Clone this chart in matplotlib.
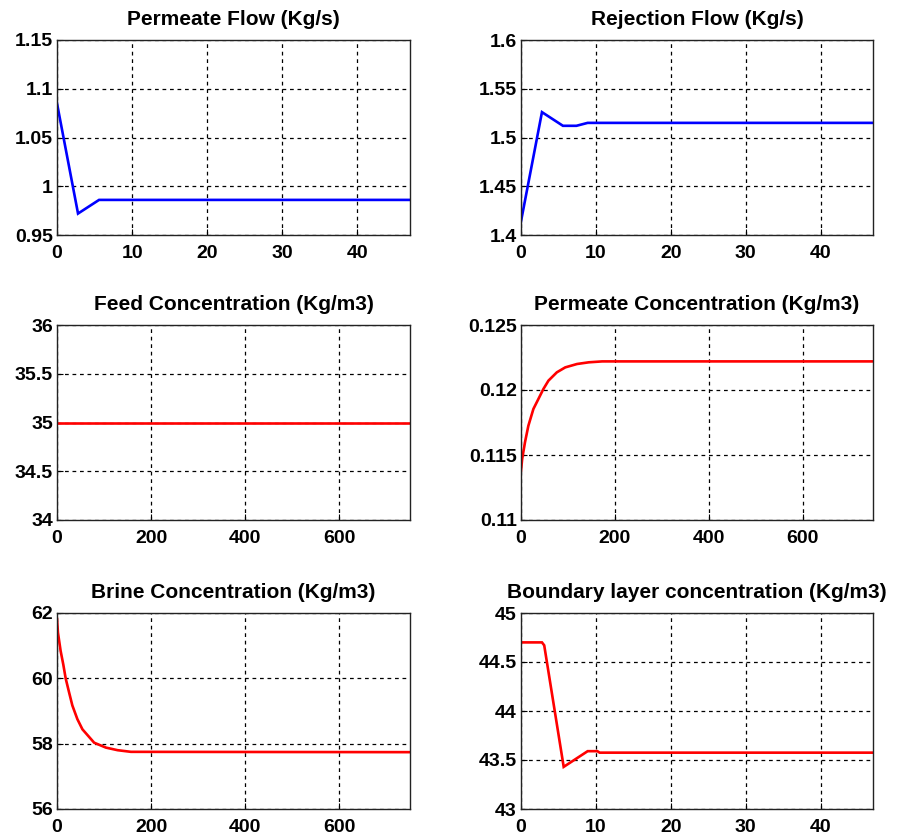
import matplotlib
matplotlib.use("Agg")
import matplotlib.pyplot as plt

# ---- data ----
perm_flow_t = [0, 2.8, 5.6, 47]
perm_flow = [1.085, 0.972, 0.986, 0.986]

rej_flow_t = [0, 2.8, 5.6, 7.4, 8.9, 47]
rej_flow = [1.414, 1.526, 1.512, 1.512, 1.515, 1.515]

feed_t = [0, 750]
feed_conc = [35, 35]

perm_conc_t = [0, 2.5, 8.6, 15.7, 26.4, 37.1, 47.8, 58.5, 76.4, 94.3, 119.4,
               144.4, 173, 750]
perm_conc = [0.1138, 0.1147, 0.1160, 0.11725, 0.11854, 0.11931, 0.12008,
             0.12072, 0.12136, 0.12174, 0.1220, 0.12213, 0.1222, 0.1222]

brine_t = [0, 2, 7.7, 13.4, 18.4, 25.5, 32.6, 43.3, 54, 78.9, 103.8, 128.8,
           157, 750]
brine_conc = [61.82, 61.4, 60.84, 60.42, 60.0, 59.58, 59.17, 58.75, 58.44,
              58.03, 57.88, 57.8, 57.75, 57.74]

bl_t = [0, 2.8, 3.1, 5.7, 8.9, 10.2, 10.5, 47]
bl_conc = [44.70, 44.70, 44.67, 43.43, 43.59, 43.59, 43.575, 43.575]

titles = ["Permeate Flow (Kg/s)", "Rejection Flow (Kg/s)",
          "Feed Concentration (Kg/m3)", "Permeate Concentration (Kg/m3)",
          "Brine Concentration (Kg/m3)", "Boundary layer concentration (Kg/m3)"]

xlims = [(0, 47), (0, 47), (0, 750), (0, 750), (0, 750), (0, 47)]
ylims = [(0.95, 1.15), (1.4, 1.6), (34, 36), (0.11, 0.125), (56, 62), (43, 45)]
xticks_list = [[0, 10, 20, 30, 40]] * 2 + [[0, 200, 400, 600]] * 3 + [[0, 10, 20, 30, 40]]
yticks_list = [[0.95, 1, 1.05, 1.1, 1.15],
               [1.4, 1.45, 1.5, 1.55, 1.6],
               [34, 34.5, 35, 35.5, 36],
               [0.11, 0.115, 0.12, 0.125],
               [56, 58, 60, 62],
               [43, 43.5, 44, 44.5, 45]]
ytick_labels = [["0.95", "1", "1.05", "1.1", "1.15"],
                ["1.4", "1.45", "1.5", "1.55", "1.6"],
                ["34", "34.5", "35", "35.5", "36"],
                ["0.11", "0.115", "0.12", "0.125"],
                ["56", "58", "60", "62"],
                ["43", "43.5", "44", "44.5", "45"]]

series = [(perm_flow_t, perm_flow, "#0000ff"),
          (rej_flow_t, rej_flow, "#0000ff"),
          (feed_t, feed_conc, "#ff0000"),
          (perm_conc_t, perm_conc, "#ff0000"),
          (brine_t, brine_conc, "#ff0000"),
          (bl_t, bl_conc, "#ff0000")]

plt.rcParams['font.family'] = ['Liberation Sans', 'DejaVu Sans']
plt.rcParams['font.weight'] = 'bold'

W, H = 898, 840
fig = plt.figure(figsize=(W / 100, H / 100), dpi=100)

col_left = [57, 521]
col_w = [353, 352]
row_top = [40, 325, 613]
row_h = [195, 195, 196]

for i in range(6):
    r, c = divmod(i, 2)
    ax = fig.add_axes([col_left[c] / W, 1 - (row_top[r] + row_h[r]) / H,
                       col_w[c] / W, row_h[r] / H])
    t, v, col = series[i]
    ax.plot(t, v, color=col, lw=1.9, solid_joinstyle='miter')
    ax.set_xlim(*xlims[i])
    ax.set_ylim(*ylims[i])
    ax.set_xticks(xticks_list[i])
    ax.set_yticks(yticks_list[i])
    ax.set_yticklabels(ytick_labels[i])
    ax.grid(True, color='black', linestyle=(0, (3, 3)), linewidth=0.9)
    ax.tick_params(direction='in', length=4, width=0.8, labelsize=14)
    ax.tick_params(axis='x', pad=7)
    ax.tick_params(axis='y', pad=3)
    for lab in ax.get_xticklabels() + ax.get_yticklabels():
        lab.set_fontweight('bold')
    for sp in ax.spines.values():
        sp.set_linewidth(1.0)
        sp.set_color('#222222')
    ax.set_title(titles[i], fontsize=15, fontweight='bold', pad=11)

fig.savefig("out.png", dpi=100)
